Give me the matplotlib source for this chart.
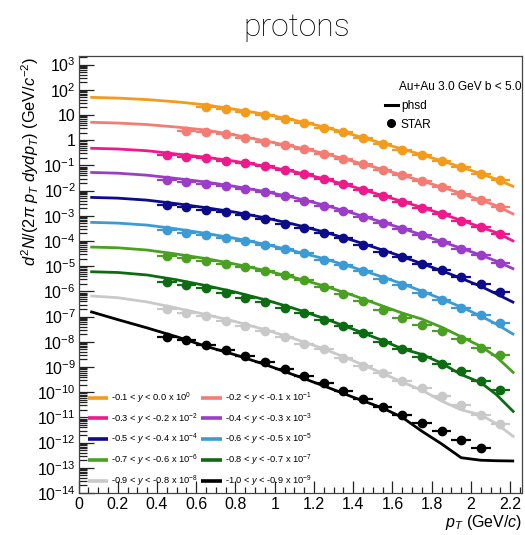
import numpy as np
import matplotlib
matplotlib.use("Agg")
import matplotlib.pyplot as plt
from matplotlib.ticker import FixedLocator, LogLocator, FuncFormatter, NullFormatter
from matplotlib.lines import Line2D

plt.rcParams['font.family'] = ['Liberation Sans', 'DejaVu Sans']
plt.rcParams['mathtext.fontset'] = 'custom'
plt.rcParams['mathtext.rm'] = 'Liberation Sans'
plt.rcParams['mathtext.it'] = 'Liberation Sans:italic'
plt.rcParams['mathtext.bf'] = 'Liberation Sans:bold'

# ---------------- data ----------------
labels = [
    r"-0.1 < $y$ < 0.0 x 10$^{0}$",
    r"-0.2 < $y$ < -0.1 x 10$^{-1}$",
    r"-0.3 < $y$ < -0.2 x 10$^{-2}$",
    r"-0.4 < $y$ < -0.3 x 10$^{-3}$",
    r"-0.5 < $y$ < -0.4 x 10$^{-4}$",
    r"-0.6 < $y$ < -0.5 x 10$^{-5}$",
    r"-0.7 < $y$ < -0.6 x 10$^{-6}$",
    r"-0.8 < $y$ < -0.7 x 10$^{-7}$",
    r"-0.9 < $y$ < -0.8 x 10$^{-8}$",
    r"-1.0 < $y$ < -0.9 x 10$^{-9}$",
]
colors = ["#F59B1C", "#F47C72", "#EE1A8C", "#9B3DC9", "#0B0B8C",
          "#3C9BD4", "#4AA020", "#0D6B12", "#C9C9C9", "#000000"]

# STAR points: pT bin centres (GeV/c) and log10 of scaled yield
pt_bins = [0.45, 0.55, 0.65, 0.75, 0.85, 0.95, 1.05, 1.15, 1.25,
           1.35, 1.45, 1.55, 1.65, 1.75, 1.85, 1.95, 2.05, 2.15]
star_first = [2, 1, 0, 0, 0, 0, 0, 0, 0, 0]   # index of first bin per series
star_log = [
    [1.33, 1.23, 1.13, 1.00, 0.84, 0.67, 0.50, 0.31, 0.08, -0.15, -0.38, -0.58, -0.82, -1.08, -1.33, -1.60],
    [0.38, 0.32, 0.23, 0.10, -0.06, -0.19, -0.36, -0.54, -0.74, -0.95, -1.17, -1.40, -1.63, -1.86, -2.12, -2.39, -2.65],
    [-0.58, -0.65, -0.72, -0.81, -0.91, -1.04, -1.17, -1.35, -1.55, -1.75, -1.97, -2.23, -2.45, -2.69, -2.93, -3.19, -3.45, -3.72],
    [-1.57, -1.66, -1.73, -1.83, -1.94, -2.07, -2.23, -2.40, -2.60, -2.80, -3.04, -3.28, -3.52, -3.78, -4.04, -4.30, -4.56, -4.87],
    [-2.58, -2.66, -2.76, -2.85, -2.98, -3.13, -3.31, -3.48, -3.68, -3.90, -4.14, -4.43, -4.65, -4.91, -5.15, -5.43, -5.72, -6.02],
    [-3.58, -3.68, -3.77, -3.88, -4.01, -4.14, -4.30, -4.49, -4.74, -4.95, -5.20, -5.52, -5.76, -6.05, -6.35, -6.64, -6.93, -7.24],
    [-4.60, -4.69, -4.80, -4.91, -5.04, -5.19, -5.35, -5.55, -5.82, -6.10, -6.40, -6.75, -7.04, -7.33, -7.59, -7.89, -8.23, -8.51],
    [-5.62, -5.74, -5.87, -6.05, -6.25, -6.41, -6.64, -6.86, -7.12, -7.37, -7.65, -7.99, -8.29, -8.59, -8.88, -9.17, -9.54, -9.91],
    [-6.70, -6.84, -6.97, -7.17, -7.37, -7.59, -7.80, -8.07, -8.29, -8.64, -8.95, -9.25, -9.54, -9.83, -10.17, -10.50, -10.90, -11.25],
    [-7.80, -7.93, -8.13, -8.33, -8.55, -8.82, -9.08, -9.34, -9.62, -9.96, -10.26, -10.59, -10.89, -11.22, -11.55, -11.90, -12.23],
]
star_pt_halfwidth = 0.05

# PHSD curves: pT nodes and log10 of scaled yield
phsd_pt = [0.06, 0.2, 0.35, 0.5, 0.65, 0.8, 0.95, 1.1, 1.25, 1.4, 1.55, 1.65, 1.75, 1.85, 1.95, 2.05, 2.13, 2.22]
phsd_log = [
    [1.70, 1.67, 1.61, 1.52, 1.40, 1.22, 1.03, 0.79, 0.53, 0.21, -0.13, -0.35, -0.58, -0.82, -1.07, -1.33, -1.55, -1.85],
    [0.71, 0.68, 0.62, 0.52, 0.40, 0.20, -0.03, -0.26, -0.52, -0.84, -1.16, -1.39, -1.62, -1.86, -2.11, -2.38, -2.60, -2.95],
    [-0.32, -0.35, -0.42, -0.55, -0.68, -0.84, -1.03, -1.25, -1.53, -1.85, -2.20, -2.43, -2.67, -2.92, -3.18, -3.45, -3.67, -4.02],
    [-1.28, -1.31, -1.39, -1.52, -1.66, -1.84, -2.04, -2.28, -2.57, -2.90, -3.26, -3.50, -3.76, -4.02, -4.29, -4.56, -4.80, -5.12],
    [-2.27, -2.30, -2.38, -2.52, -2.68, -2.86, -3.08, -3.34, -3.64, -3.98, -4.36, -4.62, -4.90, -5.18, -5.48, -5.80, -6.10, -6.45],
    [-3.26, -3.29, -3.37, -3.52, -3.70, -3.90, -4.13, -4.40, -4.70, -5.05, -5.43, -5.70, -5.99, -6.30, -6.62, -6.98, -7.30, -7.72],
    [-4.24, -4.27, -4.36, -4.52, -4.70, -4.92, -5.17, -5.45, -5.78, -6.16, -6.58, -6.86, -7.10, -7.42, -7.80, -8.18, -8.60, -9.25],
    [-5.22, -5.25, -5.35, -5.54, -5.77, -6.03, -6.33, -6.68, -7.07, -7.50, -7.95, -8.28, -8.50, -8.85, -9.30, -9.62, -10.10, -10.80],
    [-6.18, -6.25, -6.42, -6.66, -6.92, -7.20, -7.52, -7.88, -8.28, -8.75, -9.25, -9.60, -9.92, -10.35, -10.70, -10.90, -11.25, -11.78],
    [-6.80, -7.12, -7.45, -7.80, -8.18, -8.52, -8.90, -9.32, -9.75, -10.20, -10.63, -11.00, -11.55, -12.05, -12.60, -12.70, -12.72, -12.73],
]

x_ticks = [0, 0.2, 0.4, 0.6, 0.8, 1, 1.2, 1.4, 1.6, 1.8, 2, 2.2]

# ---------------- figure ----------------
W, H = 525, 535
fig = plt.figure(figsize=(W / 100, H / 100), dpi=100)
ax_l, ax_r, ax_t, ax_b = 78.5, 522, 56, 493
ax = fig.add_axes([ax_l / W, 1 - ax_b / H, (ax_r - ax_l) / W, (ax_b - ax_t) / H])

ax.set_yscale('log')
ax.set_xlim(0, 2.26)
ax.set_ylim(1e-14, 10 ** 3.34)

handles = []
for i in range(10):
    ln, = ax.plot(phsd_pt, [10 ** v for v in phsd_log[i]], color=colors[i], lw=2.0,
                  solid_capstyle='butt', zorder=2)
    handles.append(ln)
    x = pt_bins[star_first[i]: star_first[i] + len(star_log[i])]
    ax.errorbar(x, [10 ** v for v in star_log[i]], xerr=star_pt_halfwidth, fmt='o',
                color=colors[i], ms=6, elinewidth=1.6, capsize=0, zorder=3)

# legend for rapidity bins (2 columns, row-major as in reference)
order = [0, 2, 4, 6, 8, 1, 3, 5, 7, 9]
leg1 = ax.legend([handles[k] for k in order], [labels[k] for k in order], ncol=2,
                 loc='upper left', bbox_to_anchor=(0.012, 0.243), frameon=False,
                 fontsize=6.7, handlelength=2.2, handletextpad=0.35,
                 labelspacing=0.58, columnspacing=0.3, borderaxespad=0)
for lh in leg1.get_lines():
    lh.set_linewidth(2.6)
ax.add_artist(leg1)

# top-right legend
ax.text(0.998, 0.929, "Au+Au 3.0 GeV b < 5.0", transform=ax.transAxes,
        ha='right', va='center', fontsize=8.6)
h_phsd = Line2D([], [], color='black', lw=2.2)
h_star = Line2D([], [], color='black', marker='o', ls='none', ms=5.5)
ax.legend([h_phsd, h_star], ["phsd", "STAR"], loc='upper left',
          bbox_to_anchor=(0.68, 0.91), frameon=False, fontsize=8.6,
          handlelength=1.1, handletextpad=0.25, labelspacing=0.55, borderaxespad=0)

# ticks
ax.xaxis.set_major_locator(FixedLocator(x_ticks))
ax.xaxis.set_minor_locator(FixedLocator([k * 0.05 for k in range(46) if k % 4 != 0]))
ax.xaxis.set_major_formatter(FuncFormatter(lambda v, p: f"{v:g}"))
ax.yaxis.set_major_locator(LogLocator(base=10, numticks=40))
ax.yaxis.set_minor_locator(LogLocator(base=10, subs=np.arange(2, 10), numticks=400))
ax.yaxis.set_minor_formatter(NullFormatter())


def yfmt(v, p):
    e = int(round(np.log10(v)))
    if e == 0:
        return "1"
    if e == 1:
        return "10"
    return r"$10^{%d}$" % e


ax.yaxis.set_major_formatter(FuncFormatter(yfmt))
ax.tick_params(axis='both', which='both', direction='in', top=False, right=False,
               color='#222222', width=0.9)
ax.tick_params(axis='y', which='major', length=11, labelsize=11.5, pad=2)
ax.tick_params(axis='y', which='minor', length=5.5)
ax.tick_params(axis='x', which='major', length=9, labelsize=11.5, pad=3)
ax.tick_params(axis='x', which='minor', length=4.5)
for s in ax.spines.values():
    s.set_color('#444444')
    s.set_linewidth(0.9)

# axis titles
ax.set_xlabel(r"$p_{T}$ (GeV/$c$)", fontsize=11.5, loc='right')
ax.xaxis.set_label_coords(1.0, -0.046)
ax.set_ylabel(r"$d^{2}N/(2\pi\ p_{T}\ dydp_{T})$ (GeV/$c^{-2}$)", fontsize=11.8)
ax.yaxis.label.set_rotation_mode('default')
ax.yaxis.label.set_va('center')
ax.yaxis.label.set_ha('center')
ax.yaxis.set_label_coords(-0.11, 0.76)

fig.text(297 / W, 1 - 27 / H, "protons", ha='center', va='center', fontsize=23,
         color='black', family=['Roboto', 'Liberation Sans'], fontweight='light')

fig.savefig("out.png", dpi=100)
